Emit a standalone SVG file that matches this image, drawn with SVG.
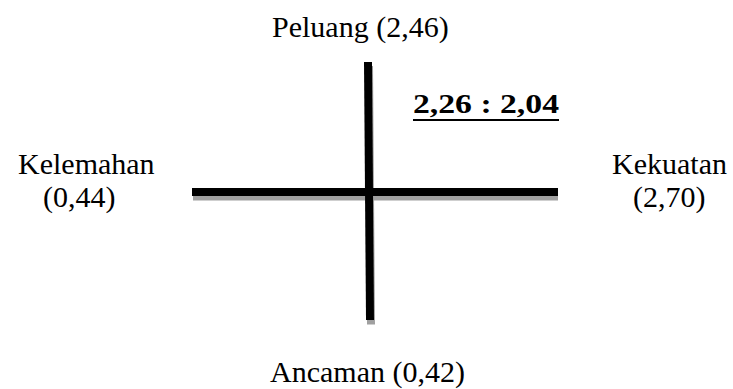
<svg xmlns="http://www.w3.org/2000/svg" width="733" height="389" viewBox="0 0 733 389">
<style>
.lbl{font-family:"Liberation Serif","Times New Roman",serif;font-size:30px;fill:#000}
.ratio{font-family:"Liberation Serif","Times New Roman",serif;font-size:27px;font-weight:bold;fill:#000}
.axis{stroke:#000;stroke-width:8;fill:none}
.shadow{stroke:#a0a0a0;stroke-width:8;fill:none}
</style>
<rect width="733" height="389" fill="#fff"/>
<g id="connectors">
<line class="shadow" x1="193" y1="196.5" x2="558" y2="196.5"/>
<line class="shadow" x1="369" y1="66" x2="371" y2="324.5"/>
<line class="axis" x1="192" y1="192" x2="558" y2="192"/>
<line class="axis" x1="368" y1="62" x2="370" y2="320"/>
</g>
<g id="peluang"><text class="lbl" x="272" y="37">Peluang (2,46)</text></g>
<g id="kelemahan"><text class="lbl" x="18" y="174">Kelemahan</text><text class="lbl" x="43" y="207">(0,44)</text></g>
<g id="kekuatan"><text class="lbl" x="612" y="174">Kekuatan</text><text class="lbl" x="633" y="207">(2,70)</text></g>
<g id="ancaman"><text class="lbl" x="270" y="382">Ancaman (0,42)</text></g>
<g id="ratio"><text class="ratio" x="413" y="113" textLength="146" lengthAdjust="spacingAndGlyphs">2,26 : 2,04</text><line x1="413" y1="120" x2="559" y2="120" stroke="#000" stroke-width="2.2"/></g>
</svg>
